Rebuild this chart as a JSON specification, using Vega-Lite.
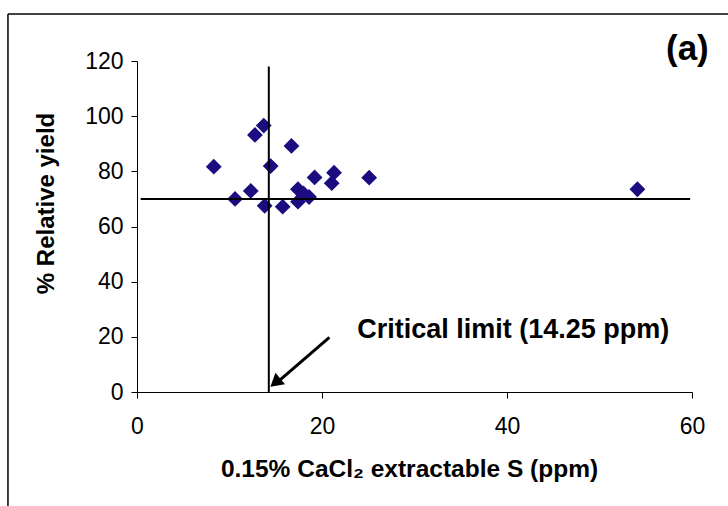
{
  "$schema": "https://vega.github.io/schema/vega-lite/v6.json",
  "width": 555,
  "height": 331,
  "autosize": {"type": "none"},
  "padding": {"left": 137, "top": 61, "right": 36, "bottom": 114},
  "background": "white",
  "config": {
    "view": {"stroke": null},
    "font": "Liberation Sans",
    "axis": {"grid": false, "labelFlush": false, "domainColor": "#000000", "tickColor": "#000000", "labelColor": "#000000", "titleColor": "#000000", "labelFont": "Liberation Sans", "titleFont": "Liberation Sans"}
  },
  "datasets": {
    "points": [
      {"s": 8.3, "ry": 81.7},
      {"s": 10.6, "ry": 70.0},
      {"s": 12.3, "ry": 72.9},
      {"s": 12.75, "ry": 93.2},
      {"s": 13.7, "ry": 96.6},
      {"s": 13.8, "ry": 67.5},
      {"s": 14.45, "ry": 81.9},
      {"s": 15.75, "ry": 67.2},
      {"s": 16.7, "ry": 89.2},
      {"s": 17.4, "ry": 73.5},
      {"s": 18.0, "ry": 72.0},
      {"s": 18.6, "ry": 70.7},
      {"s": 17.4, "ry": 69.0},
      {"s": 19.2, "ry": 77.8},
      {"s": 21.05, "ry": 75.7},
      {"s": 21.3, "ry": 79.5},
      {"s": 25.1, "ry": 77.7},
      {"s": 54.1, "ry": 73.5}
    ],
    "limits": [
      {"x": 14.25, "y": 0, "x2": 14.25, "y2": 118},
      {"x": 0.4, "y": 70, "x2": 59.8, "y2": 70}
    ],
    "arrow": [
      {"x": 20.8, "y": 19.8, "x2": 15.0, "y2": 3.0}
    ],
    "arrowhead": [
      {"x": 14.95, "y": 3.4}
    ],
    "frame": [
      {"x": -13.95, "y": 137.05, "x2": 66, "y2": 137.05},
      {"x": -13.95, "y": 137.05, "x2": -13.95, "y2": -45}
    ],
    "labels": [
      {"x": 23.8, "y": 22.5, "label": "Critical limit (14.25 ppm)"}
    ],
    "panel": [
      {"x": 59.5, "y": 124.5, "label": "(a)"}
    ]
  },
  "layer": [
    {
      "data": {"name": "points"},
      "mark": {"type": "point", "shape": "diamond", "filled": true, "size": 250, "color": "#1b0c80", "opacity": 1},
      "encoding": {
        "x": {
          "field": "s", "type": "quantitative",
          "scale": {"domain": [0, 60], "nice": false},
          "axis": {"values": [0, 20, 40, 60], "title": "0.15% CaCl₂ extractable S (ppm)", "titleFontSize": 24.5, "titleFontWeight": "bold", "titleX": 272, "labelFontSize": 23, "labelFontWeight": "normal", "tickSize": 6, "labelPadding": 17, "titlePadding": 19, "domainWidth": 1, "tickWidth": 1}
        },
        "y": {
          "field": "ry", "type": "quantitative",
          "scale": {"domain": [0, 120], "nice": false},
          "axis": {"values": [0, 20, 40, 60, 80, 100, 120], "title": "% Relative yield", "titleFontSize": 24, "titleFontWeight": "bold", "titleY": 142, "labelFontSize": 23, "tickSize": 6, "labelPadding": 8, "titlePadding": 26, "domainWidth": 1, "tickWidth": 1}
        }
      }
    },
    {
      "data": {"name": "frame"},
      "mark": {"type": "rule", "color": "#000000", "strokeWidth": 1.5, "clip": false},
      "encoding": {
        "x": {"field": "x", "type": "quantitative", "scale": {"domain": [0, 60], "nice": false}},
        "y": {"field": "y", "type": "quantitative", "scale": {"domain": [0, 120], "nice": false}},
        "x2": {"field": "x2"},
        "y2": {"field": "y2"}
      }
    },
    {
      "data": {"name": "limits"},
      "mark": {"type": "rule", "color": "#000000", "strokeWidth": 2},
      "encoding": {
        "x": {"field": "x", "type": "quantitative", "scale": {"domain": [0, 60], "nice": false}},
        "y": {"field": "y", "type": "quantitative", "scale": {"domain": [0, 120], "nice": false}},
        "x2": {"field": "x2"},
        "y2": {"field": "y2"}
      }
    },
    {
      "data": {"name": "arrow"},
      "mark": {"type": "rule", "color": "#000000", "strokeWidth": 3},
      "encoding": {
        "x": {"field": "x", "type": "quantitative", "scale": {"domain": [0, 60], "nice": false}},
        "y": {"field": "y", "type": "quantitative", "scale": {"domain": [0, 120], "nice": false}},
        "x2": {"field": "x2"},
        "y2": {"field": "y2"}
      }
    },
    {
      "data": {"name": "arrowhead"},
      "mark": {"type": "point", "shape": "triangle-up", "filled": true, "size": 220, "color": "#000000", "opacity": 1, "angle": 230},
      "encoding": {
        "x": {"field": "x", "type": "quantitative", "scale": {"domain": [0, 60], "nice": false}},
        "y": {"field": "y", "type": "quantitative", "scale": {"domain": [0, 120], "nice": false}}
      }
    },
    {
      "data": {"name": "labels"},
      "mark": {"type": "text", "align": "left", "baseline": "middle", "fontSize": 27, "fontWeight": "bold", "color": "#000000"},
      "encoding": {
        "x": {"field": "x", "type": "quantitative", "scale": {"domain": [0, 60], "nice": false}},
        "y": {"field": "y", "type": "quantitative", "scale": {"domain": [0, 120], "nice": false}},
        "text": {"field": "label"}
      }
    },
    {
      "data": {"name": "panel"},
      "mark": {"type": "text", "align": "center", "baseline": "middle", "fontSize": 35, "fontWeight": "bold", "color": "#000000"},
      "encoding": {
        "x": {"field": "x", "type": "quantitative", "scale": {"domain": [0, 60], "nice": false}},
        "y": {"field": "y", "type": "quantitative", "scale": {"domain": [0, 120], "nice": false}},
        "text": {"field": "label"}
      }
    }
  ]
}
